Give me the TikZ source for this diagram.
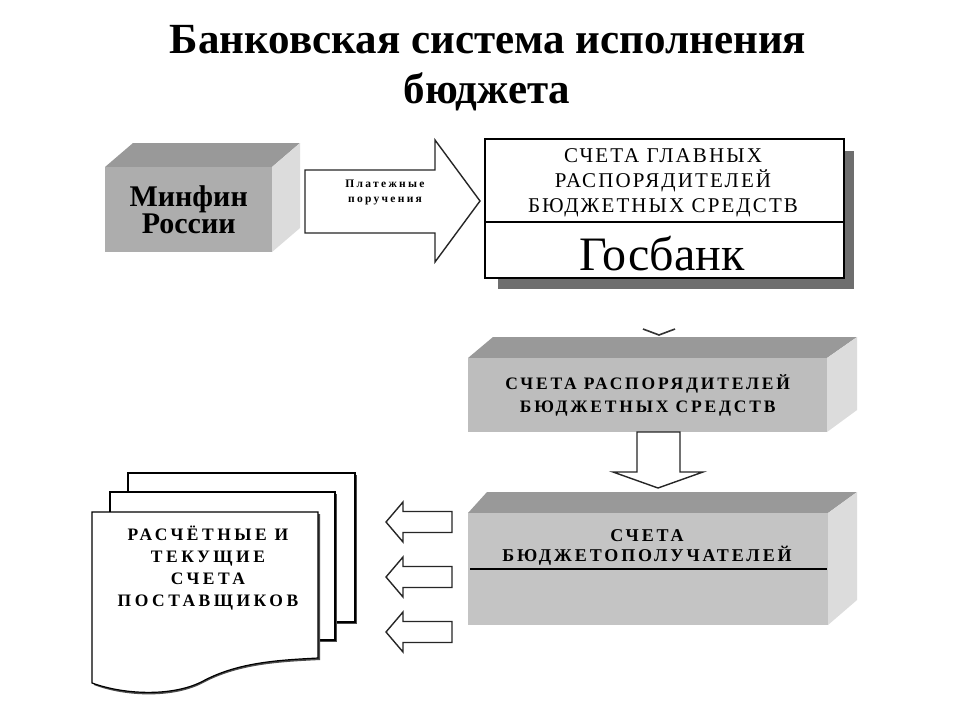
\documentclass[tikz,border=0pt]{standalone}
\usepackage{fontspec}
\setmainfont{Liberation Serif}
\newfontfamily\lsA[LetterSpace=10]{Liberation Serif}
\newfontfamily\lsB[LetterSpace=16]{Liberation Serif}
\newfontfamily\lsC[LetterSpace=20]{Liberation Serif}
\definecolor{frontA}{HTML}{ADADAD}
\definecolor{frontB}{HTML}{BDBDBD}
\definecolor{frontC}{HTML}{C4C4C4}
\definecolor{topc}{HTML}{999999}
\definecolor{sidec}{HTML}{DCDCDC}
\definecolor{shadowc}{HTML}{6E6E6E}
\begin{document}
\begin{tikzpicture}[x=1pt,y=-1pt,
  frontface/.style={fill=#1,draw=none,inner sep=0pt,anchor=north west,align=center},
  topface/.style={fill=topc},
  sideface/.style={fill=sidec},
  blockarrow/.style={fill=white,draw=black!85,line width=1.4pt,line join=miter},
  page/.style={fill=white,draw=black,line width=1.2pt},
  pageshadow/.style={fill=black!70,draw=none},
  titlefont/.style={font=\bfseries\fontsize{43}{48}\selectfont,anchor=base,inner sep=0pt}
]
\useasboundingbox[fill=white] (0,0) rectangle (960,720);

% title
\node[titlefont] (t1) at (488,53) {Банковская система исполнения};
\node[titlefont] (t2) at (487,103) {бюджета};

% Minfin 3D box
\fill[topface] (105,167) -- (133,143) -- (300,143) -- (272,167) -- cycle;
\fill[sideface] (272,167) -- (300,143) -- (300,228) -- (272,252) -- cycle;
\node[frontface=frontA,minimum width=167pt,minimum height=85pt,
      font=\bfseries\fontsize{30}{27}\selectfont] (minfin) at (105,167) {Минфин\\России};

% big arrow
\draw[blockarrow] (305,170) -- (435,170) -- (435,140) -- (480,201) -- (435,262) -- (435,233) -- (305,233) -- cycle;
\node[font=\lsC\bfseries\fontsize{11.5}{15}\selectfont,align=center] (pp) at (385,192) {Платежные\\поручения};

% Gosbank
\fill[shadowc] (498,151) rectangle (854,289);
\node[fill=white,draw=black,line width=1.5pt,minimum width=359pt,minimum height=139pt,anchor=north west,inner sep=0pt] (gos) at (484,138) {};
\draw[line width=1.2pt] (gos.west |- 0,222) -- (gos.east |- 0,222);
\node[font=\lsA\fontsize{21}{25}\selectfont,align=center] (gostop) at (663,183) {СЧЕТА ГЛАВНЫХ\\РАСПОРЯДИТЕЛЕЙ\\БЮДЖЕТНЫХ СРЕДСТВ};
\node[font=\fontsize{48}{52}\selectfont,anchor=base] (gosbank) at (662,270) {Госбанк};

% small chevron
\draw[line width=1.6pt,black!80] (643,329) -- (659,335) -- (675,329);

% box 2
\fill[topface] (468,358) -- (493,337) -- (857,337) -- (827,358) -- cycle;
\fill[sideface] (827,358) -- (857,337) -- (857,410) -- (827,432) -- cycle;
\node[frontface=frontB,minimum width=359pt,minimum height=74pt,
      font=\lsB\bfseries\fontsize{17.5}{23}\selectfont] (rasp) at (468,358) {СЧЕТА РАСПОРЯДИТЕЛЕЙ\\БЮДЖЕТНЫХ СРЕДСТВ};

% box 3
\fill[topface] (468,513) -- (487,492) -- (857,492) -- (828,513) -- cycle;
\fill[sideface] (828,513) -- (857,492) -- (857,600) -- (828,625) -- cycle;
\node[frontface=frontC,minimum width=360pt,minimum height=112pt] (polu) at (468,513) {};
\draw[line width=1.6pt] (470,569) -- (827,569);
\node[font=\lsB\bfseries\fontsize{18}{20}\selectfont,align=center] (polutext) at (647,547) {СЧЕТА\\БЮДЖЕТОПОЛУЧАТЕЛЕЙ};

% down arrow
\draw[blockarrow] (637,432) -- (680,432) -- (680,472) -- (703,472) -- (658,488) -- (613,472) -- (637,472) -- cycle;

% left arrows
\foreach \yy/\nm in {522/la1,577/la2,632/la3}{
  \draw[blockarrow] (386,\yy) -- (403,\yy-20) -- (403,\yy-10.5) -- (452,\yy-10.5) -- (452,\yy+10.5) -- (403,\yy+10.5) -- (403,\yy+20) -- cycle;
  \coordinate (\nm) at (386,\yy);
}

% document stack
\fill[pageshadow] (130,475) rectangle (357,624);
\draw[page] (128,473) rectangle (355,622);
\fill[pageshadow] (112,494) rectangle (337,642);
\draw[page] (110,492) rectangle (335,640);
\fill[pageshadow] (94,514) -- (320,514) -- (320,660) .. controls (280,662) and (240,664) .. (205,682) .. controls (175,699) and (125,697) .. (94,685) -- cycle;
\draw[page] (92,512) -- (318,512) -- (318,658) .. controls (280,660) and (240,662) .. (205,680) .. controls (175,697) and (125,695) .. (92,683) -- cycle;
\node[font=\lsC\bfseries\fontsize{17.5}{22}\selectfont,align=center] (docs) at (208,568) {РАСЧЁТНЫЕ И\\ТЕКУЩИЕ\\СЧЕТА\\ПОСТАВЩИКОВ};
\end{tikzpicture}
\end{document}
